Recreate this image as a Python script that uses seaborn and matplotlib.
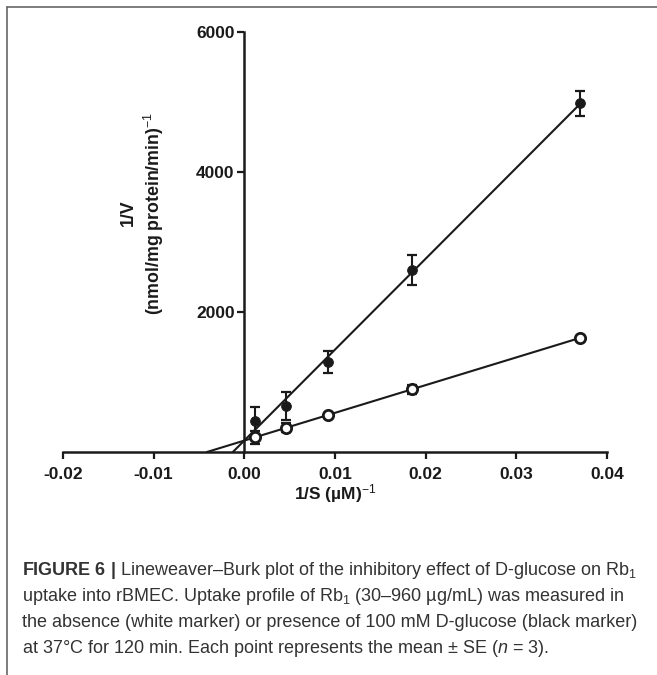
import numpy as np
import pandas as pd
import matplotlib
matplotlib.use("Agg")
import matplotlib.pyplot as plt
from matplotlib.lines import Line2D
import seaborn as sns

# === DATA ===
inv_s = [0.00115, 0.00463, 0.00925, 0.0185, 0.0370]          # 1/S (uM)^-1
glucose_mean = [450, 660, 1290, 2600, 4980]                 # + 100 mM D-glucose (black)
glucose_se = [190, 200, 155, 220, 180]
control_mean = [210, 350, 525, 895, 1630]                   # control (white)
control_se = [90, 70, 25, 60, 20]

x_ticks = [-0.02, -0.01, 0.00, 0.01, 0.02, 0.03, 0.04]
y_ticks = [2000, 4000, 6000]

caption_lines = [
    r"$\mathbf{FIGURE\ 6\ |}$ Lineweaver–Burk plot of the inhibitory effect of D-glucose on Rb$_1$",
    r"uptake into rBMEC. Uptake profile of Rb$_1$ (30–960 µg/mL) was measured in",
    r"the absence (white marker) or presence of 100 mM D-glucose (black marker)",
    r"at 37°C for 120 min. Each point represents the mean ± SE ($n$ = 3).",
]

# === STYLE ===
sns.set_theme(style="ticks")
plt.rcParams["font.family"] = ["Liberation Sans", "DejaVu Sans"]
plt.rcParams["mathtext.fontset"] = "custom"
plt.rcParams["mathtext.rm"] = "Liberation Sans"
plt.rcParams["mathtext.it"] = "Liberation Sans:italic"
plt.rcParams["mathtext.bf"] = "Liberation Sans:bold"
plt.rcParams["axes.unicode_minus"] = False

fig = plt.figure(figsize=(6.57, 6.75), dpi=100)
ax = fig.add_axes([63 / 657, 1 - 452 / 675, 544 / 657, 420 / 675])

df = pd.DataFrame({"x": inv_s, "glc": glucose_mean, "glc_se": glucose_se,
                   "ctl": control_mean, "ctl_se": control_se})

# --- fitted Lineweaver-Burk lines, from x-intercept to last point ---
for col in ["glc", "ctl"]:
    slope, icpt = np.polyfit(df["x"], df[col], 1)
    xs = np.array([-icpt / slope, df["x"].max()])
    fit = pd.DataFrame({"x": xs, "y": slope * xs + icpt})
    sns.lineplot(data=fit, x="x", y="y", ax=ax, color="#1a1a1a", lw=1.5,
                 zorder=2, clip_on=False)

# --- points with SE bars ---
ax.errorbar(df["x"], df["glc"], yerr=df["glc_se"], fmt="none", ecolor="#1a1a1a",
            elinewidth=1.5, capsize=3.5, capthick=1.6, zorder=3, clip_on=False)
sns.scatterplot(data=df, x="x", y="glc", ax=ax, color="#1a1a1a", s=50,
                edgecolor="#1a1a1a", zorder=4, clip_on=False)
ax.errorbar(df["x"], df["ctl"], yerr=df["ctl_se"], fmt="none", ecolor="#1a1a1a",
            elinewidth=1.5, capsize=3.5, capthick=1.6, zorder=5, clip_on=False)
sns.scatterplot(data=df, x="x", y="ctl", ax=ax, color="white", s=55,
                edgecolor="#1a1a1a", linewidth=2.0, zorder=6, clip_on=False)

# --- axes through origin ---
ax.set_xlim(-0.02, 0.04)
ax.set_ylim(0, 6000)
ax.spines["top"].set_visible(False)
ax.spines["right"].set_visible(False)
ax.spines["left"].set_position(("data", 0))
ax.spines["left"].set_bounds(0, 6000)
ax.spines["bottom"].set_bounds(-0.02, 0.04)
for sp in ["left", "bottom"]:
    ax.spines[sp].set_linewidth(1.8)
    ax.spines[sp].set_color("#1a1a1a")
    ax.spines[sp].set_zorder(1)

ax.set_xticks(x_ticks)
ax.set_xticklabels([f"{t:.2f}" for t in x_ticks])
ax.set_yticks(y_ticks)
ax.set_yticklabels([str(t) for t in y_ticks])
ax.tick_params(direction="out", length=5, width=1.6, color="#1a1a1a",
               labelsize=12.5, labelcolor="#1a1a1a")
ax.tick_params(axis="x", pad=6)
ax.tick_params(axis="y", pad=2)
for lab in ax.get_xticklabels() + ax.get_yticklabels():
    lab.set_fontweight("bold")
ax.set_xlabel("")
ax.set_ylabel("")
ax.grid(False)

fig.text(335 / 657, 1 - 494 / 675, r"1/S (µM)$^{-1}$", ha="center", va="center",
         fontsize=12.5, fontweight="bold", color="#1a1a1a")
fig.text(143 / 657, 1 - 213 / 675, "1/V\n(nmol/mg protein/min)$^{-1}$",
         rotation=90, ha="center", va="center", multialignment="center",
         fontsize=12.8, fontweight="bold", color="#1a1a1a", linespacing=1.3)

# --- caption ---
for i, line in enumerate(caption_lines):
    fig.text(22 / 657, 1 - (575 + 26 * i) / 675, line, ha="left", va="baseline",
             fontsize=13, color="#333333")

# --- frame (top and left rules) ---
fig.add_artist(Line2D([7 / 657, 1], [1 - 7 / 675, 1 - 7 / 675],
                      transform=fig.transFigure, color="#666666", lw=1.2))
fig.add_artist(Line2D([7 / 657, 7 / 657], [0, 1 - 7 / 675],
                      transform=fig.transFigure, color="#666666", lw=1.2))

fig.savefig("out.png", dpi=100)
